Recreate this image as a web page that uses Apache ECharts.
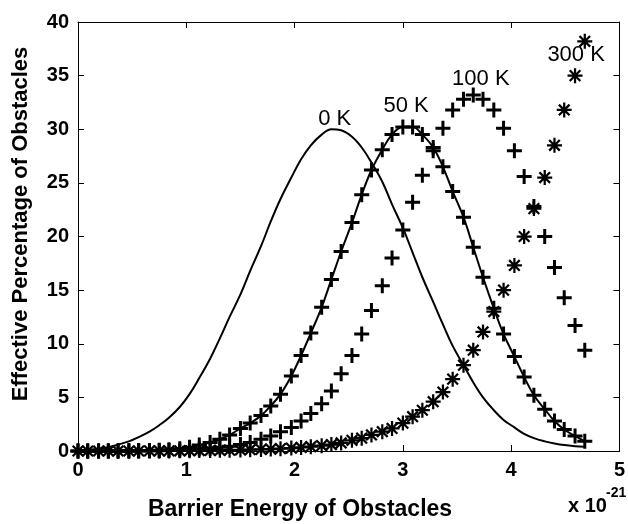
<!DOCTYPE html>
<html>
<head>
<meta charset="utf-8">
<script src="https://cdn.jsdelivr.net/npm/echarts@6/dist/echarts.min.js"></script>
<style>
  html, body { margin: 0; padding: 0; background: #fff; }
  #chart { width: 628px; height: 524px; }
</style>
</head>
<body>
<div id="chart"></div>
<script>
// barrier energy (x 1e-21)
const energy = [0, 0.09, 0.19, 0.28, 0.37, 0.47, 0.56, 0.66, 0.75, 0.84, 0.94, 1.03, 1.12, 1.22, 1.31, 1.40,
  1.50, 1.59, 1.69, 1.78, 1.87, 1.97, 2.06, 2.15, 2.25, 2.34, 2.43, 2.53, 2.62, 2.71, 2.81, 2.90, 3.00,
  3.09, 3.18, 3.28, 3.37, 3.46, 3.56, 3.65, 3.74, 3.84, 3.93, 4.03, 4.12, 4.21, 4.31, 4.40, 4.49, 4.59, 4.68];

// 0 K - solid line
const k0 = [0.05, 0.1, 0.2, 0.35, 0.6, 0.9, 1.3, 1.8, 2.4, 3.1, 4.1, 5.3, 6.8, 8.6, 10.5, 12.5,
  14.6, 16.8, 19.1, 21.4, 23.5, 25.5, 27.2, 28.5, 29.5, 30.0, 29.9, 29.3, 28.3, 26.9, 25.1, 23.0, 20.8,
  18.5, 16.2, 13.9, 11.8, 9.8, 8.0, 6.4, 5.0, 3.8, 2.9, 2.2, 1.6, 1.2, 0.9, 0.7, 0.55, 0.45, 0.4];

// 50 K - line with + markers
const k50 = [0, 0, 0, 0, 0, 0.02, 0.03, 0.05, 0.08, 0.12, 0.2, 0.35, 0.55, 0.8, 1.1, 1.5,
  2.1, 2.6, 3.3, 4.2, 5.3, 7.0, 8.9, 11.0, 13.4, 16.0, 18.6, 21.3, 23.9, 26.2, 28.1, 29.5, 30.2,
  30.2, 29.5, 28.3, 26.5, 24.2, 21.8, 19.0, 16.2, 13.3, 10.9, 8.8, 6.9, 5.2, 3.9, 2.8, 2.0, 1.4, 0.9];

// 100 K - + markers
const k100 = [0, 0, 0, 0, 0, 0.01, 0.02, 0.02, 0.03, 0.05, 0.08, 0.12, 0.18, 0.25, 0.35, 0.45,
  0.6, 0.8, 1.1, 1.4, 1.8, 2.2, 2.8, 3.5, 4.4, 5.6, 7.2, 8.9, 10.9, 13.1, 15.4, 18.0, 20.6,
  23.2, 25.7, 28.0, 30.1, 31.8, 32.8, 33.2, 32.8, 31.8, 30.1, 28.0, 25.6, 22.8, 20.0, 17.1, 14.3, 11.7, 9.4];

// 300 K - * markers
const k300 = [0, 0, 0, 0, 0, 0, 0, 0.01, 0.01, 0.01, 0.02, 0.03, 0.04, 0.05, 0.06, 0.08,
  0.1, 0.12, 0.15, 0.18, 0.22, 0.27, 0.33, 0.4, 0.5, 0.6, 0.75, 1.0, 1.2, 1.5, 1.8, 2.1, 2.6,
  3.2, 3.8, 4.6, 5.5, 6.7, 8.0, 9.4, 11.1, 13.0, 15.0, 17.3, 20.0, 22.6, 25.5, 28.5, 31.8, 35.0, 38.2];

// curve labels
const labelText = ['0 K', '50 K', '100 K', '300 K'];
const labelX = [2.37, 3.03, 3.72, 4.6];
const labelY = [31.0, 32.2, 34.7, 36.9];

const xTicks = [0, 1, 2, 3, 4, 5];
const yTicks = [0, 5, 10, 15, 20, 25, 30, 35, 40];

const pairs = (ys) => energy.map((x, i) => [x, ys[i]]);

// marker shapes (filled)
const plusPath = 'path://M8,0 H12 V8 H20 V12 H12 V20 H8 V12 H0 V8 H8 Z';
const starPath = 'path://M8.5,0 H11.5 V20 H8.5 Z M0,8.5 H20 V11.5 H0 Z ' +
  'M1.84,3.96 L3.96,1.84 L18.16,16.04 L16.04,18.16 Z M16.04,1.84 L18.16,3.96 L3.96,18.16 L1.84,16.04 Z';

const font = 'Liberation Sans, Arial, Helvetica, sans-serif';

const myChart = echarts.init(document.getElementById('chart'));

const axisBase = {
  type: 'value',
  axisLine: { show: true, onZero: false, lineStyle: { color: '#000', width: 1 } },
  axisTick: { show: true, inside: true, length: 6, lineStyle: { color: '#000' } },
  splitLine: { show: false },
};

const option = {
  backgroundColor: '#fff',
  animation: false,
  grid: { left: 78, right: 1, top: 22, bottom: 73 },
  xAxis: [
    {
      ...axisBase,
      min: xTicks[0], max: xTicks[xTicks.length - 1], interval: 1,
      axisLabel: { color: '#000', fontSize: 20, fontWeight: 'bold', fontFamily: font, margin: 9 },
    },
    {
      ...axisBase,
      position: 'top',
      min: xTicks[0], max: xTicks[xTicks.length - 1], interval: 1,
      axisLabel: { show: false },
    },
  ],
  yAxis: [
    {
      ...axisBase,
      min: yTicks[0], max: yTicks[yTicks.length - 1], interval: 5,
      axisLabel: { color: '#000', fontSize: 20, fontWeight: 'bold', fontFamily: font, margin: 9 },
    },
    {
      ...axisBase,
      position: 'right',
      min: yTicks[0], max: yTicks[yTicks.length - 1], interval: 5,
      axisLabel: { show: false },
    },
  ],
  series: [
    {
      name: '0 K',
      type: 'line',
      data: pairs(k0),
      smooth: 0.4,
      showSymbol: false,
      symbol: 'none',
      lineStyle: { color: '#000', width: 2 },
      z: 2,
    },
    {
      name: '50 K',
      type: 'line',
      data: pairs(k50),
      smooth: 0.4,
      symbol: plusPath,
      symbolSize: 15,
      showSymbol: true,
      itemStyle: { color: '#000' },
      lineStyle: { color: '#000', width: 2 },
      clip: false,
      z: 3,
    },
    {
      name: '100 K',
      type: 'scatter',
      data: pairs(k100),
      symbol: plusPath,
      symbolSize: 15,
      itemStyle: { color: '#000', opacity: 1 },
      clip: false,
      z: 3,
    },
    {
      name: '300 K',
      type: 'scatter',
      data: pairs(k300),
      symbol: starPath,
      symbolSize: 15,
      itemStyle: { color: '#000', opacity: 1 },
      clip: false,
      z: 4,
    },
    {
      name: 'labels',
      type: 'scatter',
      data: labelText.map((t, i) => [labelX[i], labelY[i], t]),
      symbolSize: 0,
      silent: true,
      itemStyle: { color: '#000', opacity: 1 },
      label: {
        show: true,
        position: 'inside',
        formatter: (p) => p.value[2],
        color: '#000',
        opacity: 1,
        fontSize: 22,
        fontFamily: font,
      },
      z: 5,
    },
  ],
  graphic: [
    {
      type: 'text',
      x: 300,
      y: 510,
      style: {
        text: 'Barrier Energy of Obstacles', fill: '#000',
        font: 'bold 23px ' + font, textAlign: 'center', textVerticalAlign: 'middle',
      },
    },
    {
      type: 'text',
      x: 21,
      y: 224,
      rotation: Math.PI / 2,
      style: {
        text: 'Effective Percentage of Obstacles', fill: '#000',
        font: 'bold 22px ' + font, textAlign: 'center', textVerticalAlign: 'middle',
      },
    },
    {
      type: 'text',
      left: 568,
      top: 496,
      style: { text: 'x 10', fill: '#000', font: 'bold 20px ' + font },
    },
    {
      type: 'text',
      left: 606,
      top: 486,
      style: { text: '-21', fill: '#000', font: 'bold 14px ' + font },
    },
  ],
};

option && myChart.setOption(option);
</script>
</body>
</html>
